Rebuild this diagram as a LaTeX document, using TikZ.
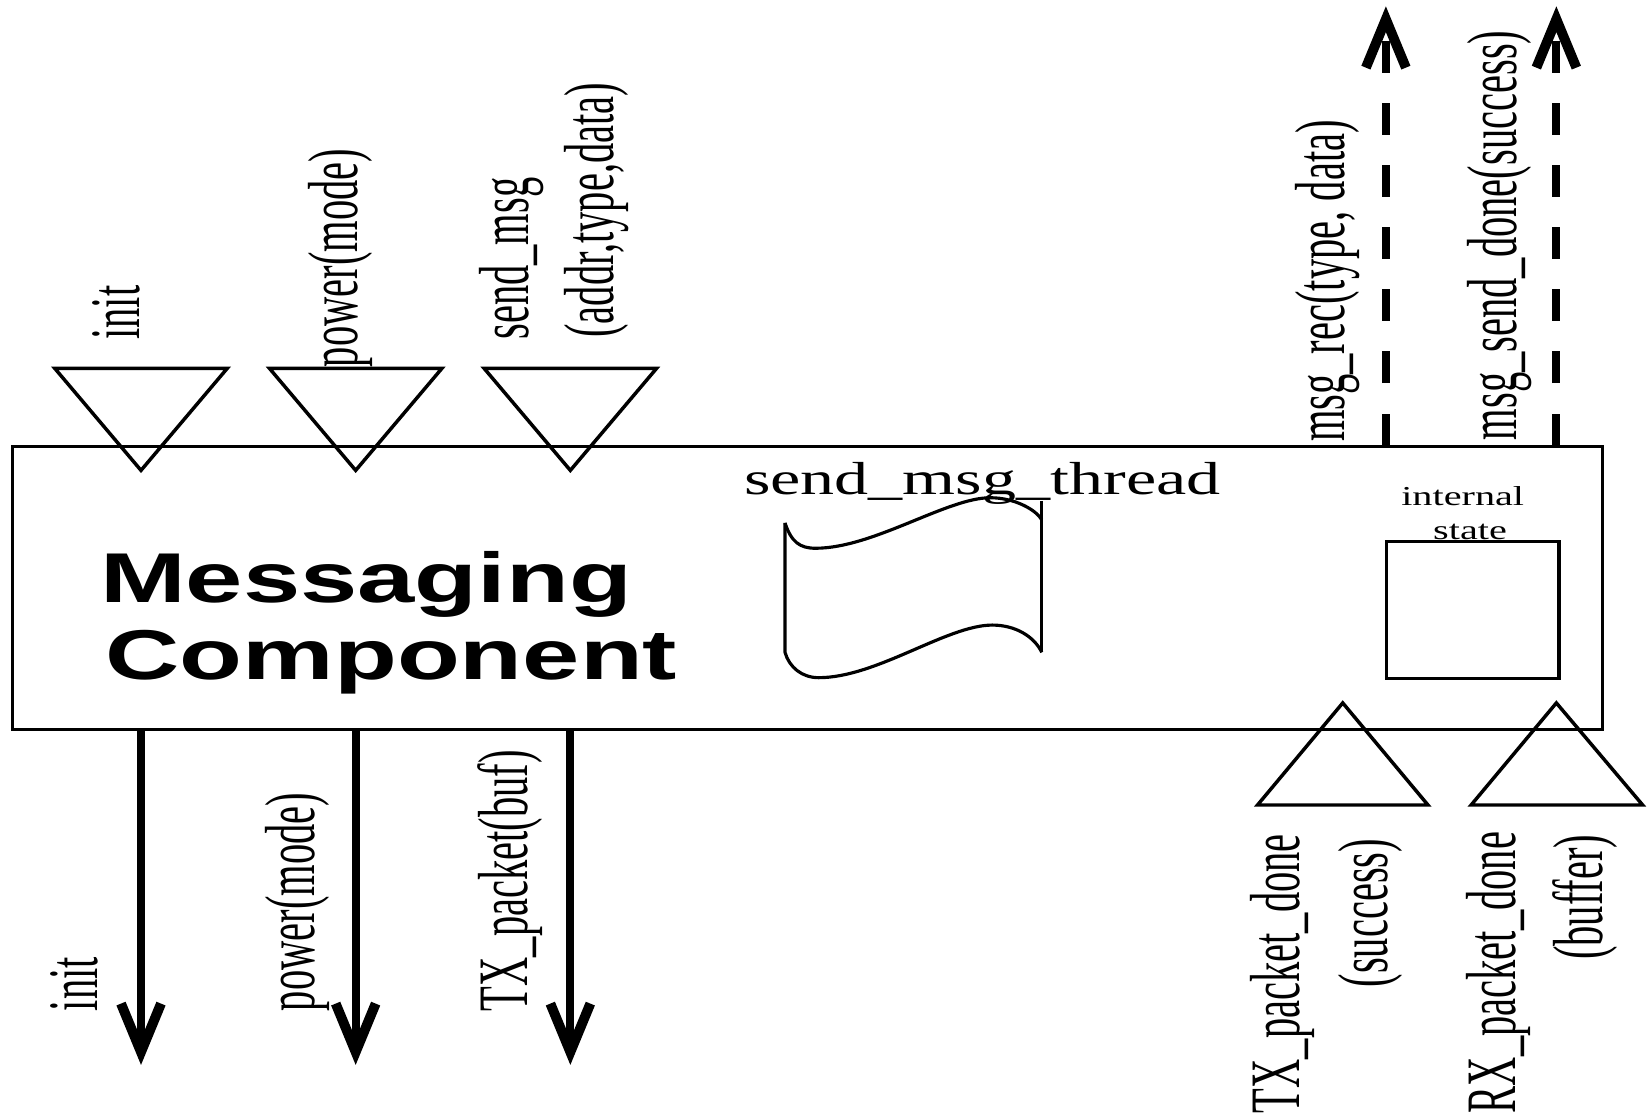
\documentclass[tikz,border=0pt]{standalone}
\usepackage{fontspec}
\setmainfont{Liberation Serif}
\newfontfamily\hvb{Liberation Sans}
\usetikzlibrary{arrows.meta}
\newcommand\vstr[1]{\scalebox{1}[1.75]{#1}}
\newcommand\hstr[1]{\scalebox{1.47}[1]{#1}}
\begin{document}
\begin{tikzpicture}[x=1pt,y=-1pt,
  lbl/.style={inner sep=0pt, rotate=90, font=\fontsize{38.5}{46}\selectfont},
  tri/.style={draw, line width=3.3pt, line join=miter, fill=none},
  barbtip/.style={-{Straight Barb[length=46pt,width=38pt,line width=0pt 1.25]}},
  outarrow/.style={line width=7.5pt, barbtip},
  dasharrow/.style={line width=7.5pt, dash pattern=on 30pt off 29pt, barbtip},
  boxline/.style={draw, line width=3pt},
]
\useasboundingbox (0,0) rectangle (1568,1064);
\fill[white] (0,0) rectangle (1568,1064);

% rotated labels, top
\node[lbl, anchor=base west] (linit) at (133,323) {\vstr{init}};
\node[lbl, anchor=base west] (lpower) at (340,349) {\vstr{power(mode)}};
\node[lbl, anchor=base west] (lsend) at (502,323) {\vstr{send\_msg}};
\node[lbl, anchor=base west] (lsendargs) at (583,321) {\vstr{(addr,type,data)}};
\node[lbl, anchor=base east] (lrec) at (1278,114) {\vstr{msg\_rec(type, data)}};
\node[lbl, anchor=base east] (ldone) at (1441,29) {\vstr{msg\_send\_done(success)}};

% rotated labels, bottom
\node[lbl, anchor=base west] (binit) at (93,961) {\vstr{init}};
\node[lbl, anchor=base west] (bpower) at (299,961) {\vstr{power(mode)}};
\node[lbl, anchor=base west] (btx) at (501,961) {\vstr{TX\_packet(buf)}};
\node[lbl, anchor=base west] (btxd) at (1235,1058) {\vstr{TX\_packet\_done}};
\node[lbl, anchor=base east] (btxs) at (1319,797) {\vstr{(success)}};
\node[lbl, anchor=base west] (brxd) at (1440,1058) {\vstr{RX\_packet\_done}};
\node[lbl, anchor=base east] (brxb) at (1523,793) {\vstr{(buffer)}};

% main component box
\node[boxline, fill=white, anchor=north west, minimum width=1511pt, minimum height=269pt, inner sep=0pt] (comp) at (10,423) {};

% title
\node[inner sep=0pt, anchor=base west, font=\hvb\bfseries\fontsize{67}{72}\selectfont] (t1) at (95,573) {\scalebox{1.46}[1]{Messaging}};
\node[inner sep=0pt, anchor=base west, font=\hvb\bfseries\fontsize{67}{72}\selectfont] (t2) at (100,646) {\scalebox{1.46}[1]{Component}};

% thread
\node[inner sep=0pt, anchor=base west, font=\fontsize{44}{50}\selectfont] (thr) at (707,470) {\hstr{send\_msg\_thread}};
\draw[line width=3pt, line join=round]
  (746,497) .. controls (752,515) and (760,521) .. (775,521)
  .. controls (830,521) and (900,473) .. (941,473)
  .. controls (965,473) and (985,485) .. (990,494);
\draw[line width=3pt] (990,476) -- (990,620);
\draw[line width=3pt, line join=round]
  (746,497) -- (746,620)
  .. controls (750,634) and (762,644) .. (778,644)
  .. controls (833,644) and (900,594) .. (943,594)
  .. controls (965,594) and (983,605) .. (990,620);

% internal state
\node[inner sep=0pt, anchor=base, font=\fontsize{26}{30}\selectfont] (istate1) at (1390,480) {\hstr{internal}};
\node[inner sep=0pt, anchor=base, font=\fontsize{26}{30}\selectfont] (istate2) at (1397,513) {\hstr{state}};
\node[boxline, fill=white, anchor=north west, minimum width=164pt, minimum height=130pt, inner sep=0pt] (ibox) at (1316,513) {};

% input triangles (top)
\draw[tri] (52,350) -- (216,350) -- (134,447) -- cycle;
\draw[tri] (256,350) -- (420,350) -- (338,447) -- cycle;
\draw[tri] (460,350) -- (624,350) -- (542,447) -- cycle;

% input triangles (bottom right)
\draw[tri] (1195,765) -- (1357,765) -- (1276,668) -- cycle;
\draw[tri] (1398,765) -- (1561,765) -- (1479,668) -- cycle;

% output arrows
\coordinate (o1) at (134,692); \coordinate (o1e) at (134,1012);
\coordinate (o2) at (338,692); \coordinate (o2e) at (338,1012);
\coordinate (o3) at (542,692); \coordinate (o3e) at (542,1012);
\draw[outarrow] (o1) -- (o1e);
\draw[outarrow] (o2) -- (o2e);
\draw[outarrow] (o3) -- (o3e);

% signal arrows (dashed)
\coordinate (s1) at (1317,423); \coordinate (s1e) at (1317,6);
\coordinate (s2) at (1479,423); \coordinate (s2e) at (1479,6);
\draw[dasharrow] (s1) -- (s1e);
\draw[dasharrow] (s2) -- (s2e);
\end{tikzpicture}
\end{document}
